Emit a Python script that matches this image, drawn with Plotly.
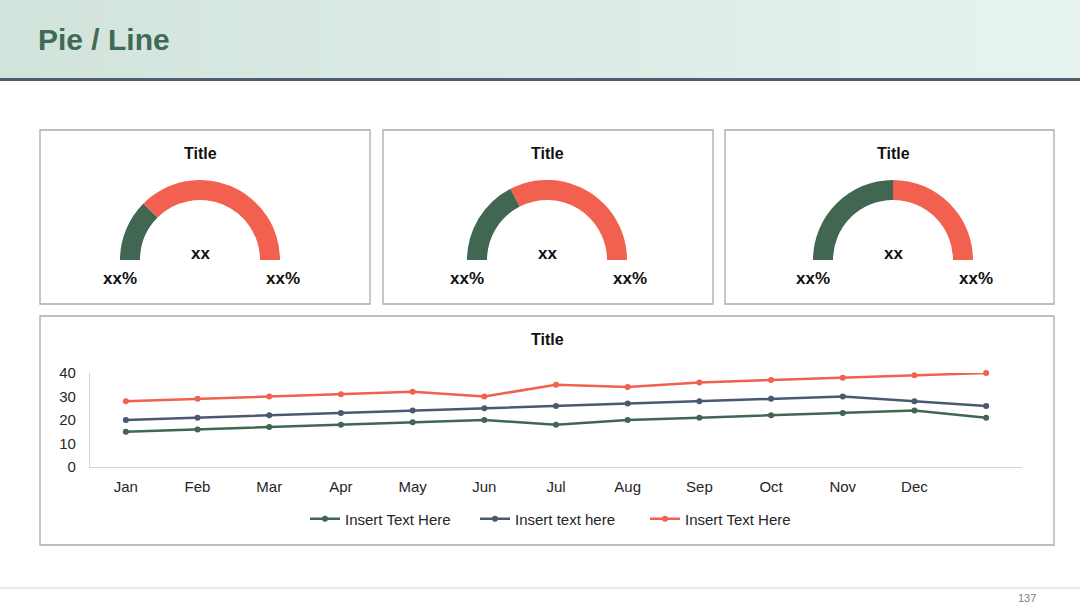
import plotly.graph_objects as go

W, H = 1080, 608

# ---------------- data ----------------
months = ["Jan", "Feb", "Mar", "Apr", "May", "Jun", "Jul", "Aug", "Sep", "Oct", "Nov", "Dec"]
series_names = ["Insert Text Here", "Insert text here", "Insert Text Here"]
green_vals = [15, 16, 17, 18, 19, 20, 18, 20, 21, 22, 23, 24, 21]
blue_vals = [20, 21, 22, 23, 24, 25, 26, 27, 28, 29, 30, 28, 26]
red_vals = [28, 29, 30, 31, 32, 30, 35, 34, 36, 37, 38, 39, 40]
y_ticks = [0, 10, 20, 30, 40]

gauge_titles = ["Title", "Title", "Title"]
gauge_green = [25, 35, 50]
gauge_center_text = ["xx", "xx", "xx"]
gauge_left_text = ["xx%", "xx%", "xx%"]
gauge_right_text = ["xx%", "xx%", "xx%"]

GREEN = "#416652"
RED = "#f2604f"
SLATE = "#4a5872"
FONT = "Liberation Sans, Arial, sans-serif"


def px(x):
    return x / W


def py(y):
    return 1 - y / H


fig = go.Figure()
shapes = []
annotations = []

# ---------------- header ----------------
c0 = (0xD2, 0xE3, 0xDC)
c1 = (0xE7, 0xF3, 0xEF)
n = 54
for i in range(n):
    t = i / (n - 1)
    col = "rgb(%d,%d,%d)" % tuple(round(a + (b - a) * t) for a, b in zip(c0, c1))
    shapes.append(dict(type="rect", xref="paper", yref="paper",
                       x0=px(i * W / n), x1=px((i + 1) * W / n + 1), y0=py(78), y1=py(0),
                       fillcolor=col, line=dict(width=0), layer="below"))
shapes.append(dict(type="rect", xref="paper", yref="paper", x0=0, x1=1, y0=py(81), y1=py(78),
                   fillcolor="#4e5d70", line=dict(width=0)))
annotations.append(dict(text="<b>Pie / Line</b>", xref="paper", yref="paper", x=px(36), y=py(40),
                        xanchor="left", yanchor="middle", showarrow=False,
                        font=dict(family=FONT, size=30, color="#3e6b55")))

# footer
shapes.append(dict(type="line", xref="paper", yref="paper", x0=0, x1=1, y0=py(588), y1=py(588),
                   line=dict(color="#dde6e4", width=1.5)))
annotations.append(dict(text="137", xref="paper", yref="paper", x=px(1027), y=py(598),
                        xanchor="center", yanchor="middle", showarrow=False,
                        font=dict(family=FONT, size=11, color="#808080")))

# ---------------- panels ----------------
BORDER = "#a2aeab"
panels = [(40, 130, 370, 304), (383, 130, 713, 304), (725, 130, 1054, 304), (40, 316, 1054, 545)]
for (x0, y0, x1, y1) in panels:
    shapes.append(dict(type="rect", xref="paper", yref="paper", x0=px(x0), x1=px(x1),
                       y0=py(y1), y1=py(y0), line=dict(color=BORDER, width=1.3),
                       fillcolor="rgba(0,0,0,0)"))

# ---------------- gauges ----------------
centers = [200, 547, 893]
R = 80
CY = 260
for i, cx in enumerate(centers):
    g = gauge_green[i]
    fig.add_trace(go.Pie(
        values=[g, 100 - g, 100],
        marker=dict(colors=[GREEN, RED, "rgba(0,0,0,0)"], line=dict(width=0)),
        hole=0.75, sort=False, direction="clockwise", rotation=270,
        textinfo="none", hoverinfo="skip", showlegend=False,
        domain=dict(x=[px(cx - R), px(cx + R)], y=[py(CY + R), py(CY - R)]),
    ))
    annotations.append(dict(text="<b>%s</b>" % gauge_titles[i], xref="paper", yref="paper",
                            x=px(cx), y=py(153), showarrow=False, xanchor="center", yanchor="middle",
                            font=dict(family=FONT, size=16, color="#111111")))
    annotations.append(dict(text="<b>%s</b>" % gauge_center_text[i], xref="paper", yref="paper",
                            x=px(cx), y=py(253), showarrow=False, xanchor="center", yanchor="middle",
                            font=dict(family=FONT, size=17, color="#111111")))
    annotations.append(dict(text="<b>%s</b>" % gauge_left_text[i], xref="paper", yref="paper",
                            x=px(cx - 80), y=py(279), showarrow=False, xanchor="center", yanchor="middle",
                            font=dict(family=FONT, size=17, color="#111111")))
    annotations.append(dict(text="<b>%s</b>" % gauge_right_text[i], xref="paper", yref="paper",
                            x=px(cx + 83), y=py(279), showarrow=False, xanchor="center", yanchor="middle",
                            font=dict(family=FONT, size=17, color="#111111")))

# ---------------- line chart ----------------
x_idx = list(range(len(green_vals)))
for vals, name, col in [(green_vals, series_names[0], GREEN),
                        (blue_vals, series_names[1], SLATE),
                        (red_vals, series_names[2], RED)]:
    fig.add_trace(go.Scatter(x=x_idx, y=vals, name=name, mode="lines+markers",
                             line=dict(color=col, width=2.5),
                             marker=dict(color=col, size=6, symbol="circle"),
                             cliponaxis=False, hoverinfo="skip"))

annotations.append(dict(text="<b>Title</b>", xref="paper", yref="paper", x=px(547), y=py(339),
                        showarrow=False, xanchor="center", yanchor="middle",
                        font=dict(family=FONT, size=16, color="#111111")))

fig.update_layout(
    template="none",
    width=W, height=H, autosize=False,
    margin=dict(l=0, r=0, t=0, b=0, pad=0, autoexpand=False),
    paper_bgcolor="white", plot_bgcolor="rgba(0,0,0,0)",
    shapes=shapes, annotations=annotations,
    font=dict(family=FONT),
    xaxis=dict(domain=[px(90), px(1022)], range=[-0.5, len(green_vals) - 0.5],
               tickvals=list(range(len(months))), ticktext=months,
               showgrid=False, zeroline=False, showline=True, linecolor="#d4d4d4", linewidth=1.2,
               ticks="", ticklabelstandoff=6,
               tickfont=dict(family=FONT, size=15, color="#262626"),
               anchor="y", fixedrange=True, automargin=False),
    yaxis=dict(domain=[py(467), py(373)], range=[0, 40], tickvals=y_ticks,
               showgrid=False, zeroline=False, showline=True, linecolor="#d4d4d4", linewidth=1.2,
               ticks="", ticklabelstandoff=10,
               tickfont=dict(family=FONT, size=15, color="#262626"),
               anchor="x", fixedrange=True, automargin=False),
    legend=dict(orientation="h", x=px(305), y=py(519), xanchor="left", yanchor="middle",
                font=dict(family=FONT, size=15, color="#262626"),
                entrywidth=125, entrywidthmode="pixels",
                bgcolor="rgba(0,0,0,0)", itemclick=False, itemdoubleclick=False),
)

fig.write_html("out.html", config={"displayModeBar": False, "responsive": False},
               post_script="document.body.style.margin='0';"
                           "document.documentElement.style.overflow='hidden';")
